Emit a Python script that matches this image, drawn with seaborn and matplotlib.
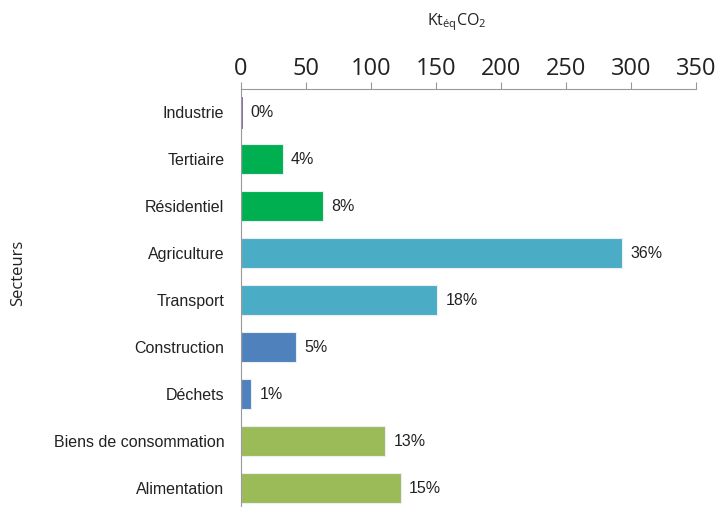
import matplotlib
matplotlib.use("Agg")
import matplotlib.pyplot as plt
import seaborn as sns
import pandas as pd
import numpy as np
from matplotlib.ticker import FixedLocator

secteurs = ["Industrie", "Tertiaire", "Résidentiel", "Agriculture", "Transport",
            "Construction", "Déchets", "Biens de consommation", "Alimentation"]
valeurs = [1, 32, 63, 293, 151, 42, 8, 111, 123]
pourcentages = ["0%", "4%", "8%", "36%", "18%", "5%", "1%", "13%", "15%"]
couleurs = ["#8064A2", "#00B050", "#00B050", "#4BACC6", "#4BACC6",
            "#4F81BD", "#4F81BD", "#9BBB59", "#9BBB59"]
x_ticks = [0, 50, 100, 150, 200, 250, 300, 350]

df = pd.DataFrame({"Secteur": secteurs, "Valeur": valeurs})

sns.set_style("white")
plt.rcParams['font.family'] = ['Liberation Sans', 'DejaVu Sans']
plt.rcParams['mathtext.default'] = 'regular'

W, H = 718, 507
fig = plt.figure(figsize=(W / 100, H / 100), dpi=100)
ax = fig.add_axes([241 / W, 0, (696 - 241) / W, (507 - 89) / H])

sns.barplot(data=df, y="Secteur", x="Valeur", hue="Secteur", palette=couleurs,
            saturation=1, dodge=False, legend=False, width=0.64, orient="h", ax=ax,
            edgecolor="#e8eef4", linewidth=0.8)
# the tiny Industrie bar is drawn as a thin coloured line
ax.patches[0].set_edgecolor(couleurs[0])
ax.patches[0].set_linewidth(0.6)

ax.set_xlim(0, 350)
ax.set_ylim(8.4, -0.5)
ax.xaxis.set_ticks_position("top")
ax.xaxis.set_label_position("top")
ax.set_xticks(x_ticks)
ax.set_xticklabels([str(t) for t in x_ticks], family=["Open Sans", "DejaVu Sans"],
                   fontsize=17, color="#222222")
ax.tick_params(axis="x", direction="out", length=5, color="#999999", width=0.8, pad=1)

ax.set_yticks(range(len(secteurs)))
ax.set_yticklabels(secteurs, fontsize=11.5, color="#222222")
ax.tick_params(axis="y", which="major", length=0, pad=12)
ax.yaxis.set_minor_locator(FixedLocator(np.arange(0.5, 8.5, 1.0)))
ax.tick_params(axis="y", which="minor", length=4, color="#999999", width=0.8, direction="out")

for s in ["right", "bottom"]:
    ax.spines[s].set_visible(False)
for s in ["top", "left"]:
    ax.spines[s].set_color("#999999")
    ax.spines[s].set_linewidth(0.8)

ax.set_xlabel("")
ax.set_ylabel("Secteurs", fontsize=12, color="#222222", labelpad=0,
              family=["Open Sans", "DejaVu Sans"])
ax.yaxis.set_label_coords(-(241 - 26) / (696 - 241), 0.56)

for i, (v, p) in enumerate(zip(valeurs, pourcentages)):
    ax.annotate(p, xy=(v, i), xytext=(6, 0), textcoords="offset points",
                va="center", ha="left", fontsize=11.5, color="#222222")

fig.text(457 / W, 1 - 22 / H, r"Kt$_{éq}$CO$_{2}$", ha="center", va="center",
         fontsize=11.5, family=["Open Sans", "DejaVu Sans"], color="#222222")

fig.savefig("out.png", dpi=100)
